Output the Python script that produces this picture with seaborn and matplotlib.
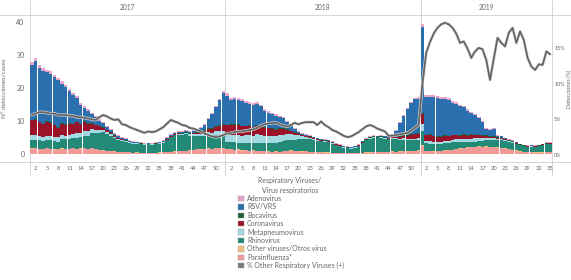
import matplotlib
matplotlib.use("Agg")
import matplotlib.pyplot as plt
import seaborn as sns
import pandas as pd
from matplotlib.patches import Patch
from matplotlib.lines import Line2D
import matplotlib.patheffects as pe

sns.set_theme(style="white")
plt.rcParams['font.family'] = ['Lato', 'DejaVu Sans']

# ---------------- data ----------------
years = ["2017", "2018", "2019"]
n_weeks = [52, 52, 35]
tick_weeks_2017 = [2, 5, 8, 11, 14, 17, 20, 23, 26, 29, 32, 35, 38, 41, 44, 47, 50]
tick_weeks_2018 = [2, 5, 8, 11, 14, 17, 20, 23, 26, 29, 32, 35, 38, 41, 44, 47, 50]
tick_weeks_2019 = [2, 5, 8, 11, 14, 17, 20, 23, 26, 29, 32, 35]

viruses = ["Adenovirus", "RSV/VRS", "Bocavirus", "Coronavirus", "Metapneumovirus",
           "Rhinovirus", "Other viruses/Otros virus", "Parainfluenza*"]
colors = ["#eaa3c9", "#2a6fae", "#1f5e36", "#9b1328", "#a3d9e3", "#238a78", "#f3c27e", "#f29a98"]

# 2017
adeno_2017 = [0.9,0.9,0.9,0.8,0.8,0.8,0.7,0.7,0.7,0.7,0.6,0.6,0.6,0.5,0.5,0.5,
              0.4,0.4,0.4,0.4,0.3,0.3,0.3,0.3,0.2,0.2,
              0.2,0.2,0.2,0.2,0.2,0.2,0.2,0.2,0.2,0.2,0.2,0.2,
              0.2,0.2,0.3,0.3,0.3,0.3,0.3,0.3,0.3,0.4,0.4,0.4,0.5,0.5]
rsv_2017 = [16.7,17.6,16.3,16.0,14.7,14.6,14.4,14.2,12.0,11.3,9.5,8.7,7.1,5.8,4.1,3.6,
            2.8,2.2,1.5,1.2,0.8,0.6,0.5,0.5,0.3,0.3,
            0.2,0.2,0.1,0.1,0.1,0.1,0.1,0.1,0.1,0.2,0.2,0.3,
            0.3,0.3,0.3,0.4,0.4,0.5,0.6,0.9,1.6,2.8,4.3,5.8,7.5,9.5]
boca_2017 = [0.2,0.3,0.2,0.2,0.2,0.3,0.2,0.2,0.2,0.2,0.3,0.2,0.2,0.2,0.2,0.2,
             0.2,0.2,0.2,0.2,0.2,0.2,0.2,0.2,0.2,0.2,
             0.1,0.1,0.1,0.1,0.1,0.1,0.1,0.1,0.1,0.1,0.2,0.2,
             0.2,0.2,0.2,0.2,0.2,0.2,0.2,0.2,0.2,0.2,0.2,0.2,0.2,0.2]
corona_2017 = [4.5,4.6,4.2,3.8,4.3,4.0,3.5,2.8,3.4,3.2,3.3,3.0,3.3,2.5,2.7,2.2,
               1.5,1.3,1.0,0.6,0.5,0.4,0.3,0.2,0.2,0.1,
               0.1,0.1,0.1,0.1,0.1,0.1,0.1,0.1,0.1,0.1,0.1,0.1,
               0.1,0.1,0.1,0.2,0.2,0.3,0.4,0.5,0.7,0.9,1.1,1.4,1.6,1.8]
metap_2017 = [1.4,1.3,1.2,1.3,1.2,1.1,1.2,1.3,1.2,1.1,1.3,1.2,1.4,1.3,1.5,1.4,
              1.2,1.0,0.9,0.8,0.7,0.6,0.4,0.3,0.2,0.2,
              0.1,0.1,0.1,0.1,0.1,0.1,0.1,0.1,0.1,0.1,0.2,0.2,
              0.2,0.3,0.3,0.3,0.4,0.5,0.6,0.7,0.8,0.9,1.0,1.2,1.3,1.5]
rhino_2017 = [2.6,2.5,2.6,2.4,2.5,2.7,2.6,2.3,2.8,2.9,3.1,3.0,3.3,3.5,3.6,4.0,
              4.6,4.9,5.2,5.5,5.0,4.5,4.0,3.6,3.4,3.2,
              3.0,2.8,2.7,2.6,2.5,2.5,2.5,2.6,2.7,3.0,3.6,4.4,
              4.9,5.0,4.8,5.0,4.5,4.2,4.0,4.1,4.0,4.1,4.0,3.9,3.8,3.8]
other_2017 = [0.1,0.1,0.1,0.1,0.1,0.1,0.1,0.1,0.1,0.1,0.1,0.1,0.1,0.1,0.1,0.1,
              0.1,0.1,0.1,0.1,0.1,0.1,0.1,0.1,0.1,0.1,
              0.0,0.0,0.1,0.0,0.0,0.1,0.0,0.0,0.1,0.0,0.1,0.1,
              0.1,0.1,0.1,0.1,0.1,0.1,0.1,0.1,0.1,0.1,0.1,0.1,0.1,0.1]
para_2017 = [1.6,1.8,1.5,1.4,1.7,1.5,1.3,1.4,1.6,1.5,1.4,1.7,1.5,1.6,1.8,1.5,
             1.7,1.4,1.2,1.0,0.9,0.8,0.7,0.6,0.6,0.5,
             0.5,0.4,0.4,0.4,0.3,0.3,0.3,0.4,0.4,0.5,0.5,0.6,
             0.7,0.8,0.8,0.9,1.0,1.2,1.4,1.3,1.5,1.6,1.4,1.7,1.8,1.6]
pct_2017 = [5.6,5.8,6.0,6.0,5.9,5.8,5.8,5.6,5.6,5.6,5.5,5.5,5.3,5.3,5.2,5.1,
            5.0,4.9,5.3,5.6,5.4,5.1,4.9,5.0,4.3,4.2,
            3.9,3.7,3.5,3.3,3.1,3.3,3.2,3.3,3.6,3.9,4.4,4.9,
            4.7,4.5,4.2,4.1,3.8,3.7,3.5,3.3,3.0,2.8,2.6,2.5,2.6,2.8]

# 2018
adeno_2018 = [0.8,0.7,0.7,0.7,0.6,0.6,0.6,0.6,0.6,0.5,0.5,0.5,
              0.5,0.4,0.4,0.4,0.4,0.3,0.3,0.3,0.3,0.3,0.2,0.2,0.2,0.2,
              0.2,0.2,0.2,0.2,0.2,0.2,0.2,0.2,0.2,0.2,0.2,0.2,0.2,0.2,
              0.2,0.2,0.2,0.2,0.2,0.3,0.3,0.3,0.4,0.4,0.4,0.5]
rsv_2018 = [8.8,7.3,7.6,7.2,7.6,6.8,6.4,6.6,6.4,6.2,4.9,4.5,
            4.2,4.0,3.3,3.0,2.1,1.4,1.1,0.4,0.2,0.2,0.1,0.1,0.1,0.1,
            0.1,0.1,0.1,0.1,0.1,0.1,0.1,0.1,0.1,0.1,0.1,0.1,0.1,0.1,
            0.2,0.2,0.3,0.4,0.6,1.7,4.0,5.8,7.8,9.4,10.4,10.4]
boca_2018 = [0.2,0.2,0.2,0.2,0.2,0.2,0.2,0.2,0.2,0.2,0.2,0.2,
             0.2,0.2,0.2,0.2,0.2,0.2,0.2,0.2,0.2,0.2,0.2,0.2,0.2,0.2,
             0.2,0.2,0.2,0.1,0.1,0.1,0.1,0.1,0.1,0.1,0.2,0.2,0.2,0.2,
             0.2,0.2,0.2,0.2,0.2,0.2,0.2,0.2,0.2,0.2,0.2,0.2]
corona_2018 = [3.0,3.1,2.9,3.2,2.8,2.6,2.7,2.5,2.6,2.4,2.3,2.2,
               2.1,2.0,1.8,1.7,1.3,0.9,0.6,0.4,0.3,0.2,0.2,0.1,0.1,0.1,
               0.1,0.1,0.1,0.1,0.1,0.1,0.1,0.1,0.1,0.1,0.1,0.1,0.1,0.1,
               0.1,0.1,0.1,0.1,0.2,0.3,0.5,0.7,0.9,1.1,1.3,1.4]
metap_2018 = [2.0,2.1,2.3,2.2,2.1,2.4,2.3,2.2,2.5,2.3,2.2,2.1,
              2.0,1.9,2.2,2.0,1.8,1.6,1.4,1.1,0.9,0.7,0.5,0.4,0.3,0.2,
              0.1,0.1,0.1,0.1,0.1,0.1,0.1,0.1,0.1,0.1,0.1,0.1,0.1,0.1,
              0.1,0.2,0.2,0.2,0.3,0.3,0.3,0.4,0.4,0.5,0.5,0.6]
rhino_2018 = [2.2,2.0,2.3,2.1,2.4,2.2,2.5,2.3,2.6,2.4,2.5,2.7,
              2.8,2.7,2.9,3.0,3.2,3.3,3.5,3.6,3.7,3.6,3.8,3.7,3.4,3.3,
              3.3,3.2,2.9,2.4,2.0,1.7,1.5,1.4,1.5,2.1,3.0,3.7,4.2,4.4,
              4.2,4.2,4.0,3.8,3.9,3.8,3.6,3.5,3.4,3.3,3.2,3.1]
other_2018 = [0.1,0.1,0.1,0.1,0.1,0.1,0.1,0.1,0.1,0.1,0.1,0.1,
              0.1,0.1,0.1,0.1,0.1,0.1,0.1,0.1,0.1,0.1,0.1,0.1,0.1,0.1,
              0.1,0.1,0.0,0.0,0.1,0.0,0.0,0.0,0.1,0.0,0.1,0.1,0.1,0.1,
              0.1,0.1,0.1,0.1,0.1,0.1,0.1,0.1,0.1,0.1,0.1,0.1]
para_2018 = [1.4,1.5,1.2,1.3,1.0,1.1,0.9,1.0,0.8,0.9,0.8,0.7,
             0.6,0.7,0.6,0.8,0.9,1.0,0.8,0.9,0.7,0.8,0.6,0.5,0.6,0.5,
             0.4,0.4,0.3,0.3,0.3,0.2,0.2,0.2,0.3,0.3,0.3,0.4,0.4,0.5,
             0.5,0.6,0.5,0.6,0.7,0.6,0.7,0.8,0.7,0.8,0.9,1.0]
pct_2018 = [3.0,3.1,3.2,3.3,3.3,3.4,3.5,3.6,3.8,4.1,4.3,4.4,
            4.5,4.5,4.3,4.1,4.0,4.2,4.5,4.3,4.5,4.6,4.6,4.6,4.2,4.7,
            4.2,3.9,3.5,3.3,3.0,2.7,2.5,2.6,2.9,3.2,3.6,4.0,4.2,4.0,
            3.7,3.5,3.3,2.7,2.7,2.8,2.9,3.0,3.1,3.4,3.8,4.2]

# 2019
adeno_2019 = [0.9,0.6,0.6,0.6,0.5,0.5,0.5,0.5,0.5,0.5,
              0.4,0.4,0.4,0.4,0.3,0.3,0.3,0.3,0.3,0.3,0.2,0.2,0.2,0.2,0.2,0.2,
              0.1,0.1,0.1,0.1,0.1,0.1,0.1,0.2,0.2]
rsv_2019 = [26.1,11.5,11.4,11.6,11.5,11.4,11.1,10.9,9.6,9.4,
            8.8,8.0,7.3,6.4,5.8,5.0,4.0,1.8,1.7,2.2,0.4,0.4,0.1,0.1,0.1,0.1,
            0.1,0.1,0.1,0.1,0.1,0.1,0.1,0.1,0.1]
boca_2019 = [0.4,0.2,0.2,0.2,0.2,0.2,0.2,0.2,0.2,0.2,
             0.2,0.2,0.2,0.2,0.2,0.2,0.2,0.2,0.2,0.2,0.2,0.2,0.2,0.2,0.2,0.2,
             0.2,0.1,0.1,0.1,0.1,0.1,0.1,0.1,0.1]
corona_2019 = [3.0,1.8,1.9,1.7,1.6,1.4,1.5,1.3,1.4,1.2,
               1.1,1.2,1.0,1.1,0.9,0.8,0.7,0.6,0.5,0.4,0.3,0.2,0.2,0.1,0.1,0.1,
               0.1,0.1,0.1,0.1,0.1,0.1,0.1,0.1,0.1]
metap_2019 = [2.0,0.6,0.7,0.6,0.7,0.8,0.7,0.8,0.7,0.8,
              0.8,0.9,0.8,0.9,1.0,0.9,0.8,0.7,0.6,0.5,0.4,0.3,0.3,0.2,0.2,0.1,
              0.1,0.1,0.1,0.1,0.1,0.1,0.1,0.1,0.1]
rhino_2019 = [4.5,2.4,2.2,2.3,2.1,2.0,2.2,2.1,2.3,2.2,
              2.0,1.9,1.8,1.7,1.6,1.7,1.8,1.9,2.1,2.2,2.3,2.4,2.3,2.2,2.1,2.0,
              1.8,1.6,1.5,1.6,1.6,1.8,2.2,2.4,2.5]
other_2019 = [0.1,0.1,0.1,0.1,0.1,0.1,0.1,0.1,0.1,0.1,
              0.1,0.1,0.1,0.1,0.1,0.1,0.1,0.1,0.1,0.1,0.1,0.1,0.1,0.1,0.1,0.1,
              0.1,0.1,0.1,0.1,0.1,0.1,0.1,0.1,0.1]
para_2019 = [2.5,0.8,0.9,0.7,0.8,0.9,1.0,1.1,1.2,1.4,
             1.6,1.8,1.9,2.0,2.1,2.2,2.1,2.2,2.0,2.1,1.9,1.8,1.6,1.4,1.2,1.0,
             0.7,0.6,0.5,0.5,0.4,0.4,0.4,0.5,0.5]
pct_2019 = [10.0,14.3,15.8,17.0,17.8,18.3,18.5,18.3,17.8,17.0,
            15.7,15.9,14.9,13.6,14.5,15.0,14.8,13.3,10.5,13.5,16.4,15.7,15.2,17.1,17.8,15.7,
            17.3,16.1,13.6,12.4,11.9,12.7,12.6,14.5,14.1]

series = {
    "2017": [adeno_2017, rsv_2017, boca_2017, corona_2017, metap_2017, rhino_2017, other_2017, para_2017],
    "2018": [adeno_2018, rsv_2018, boca_2018, corona_2018, metap_2018, rhino_2018, other_2018, para_2018],
    "2019": [adeno_2019, rsv_2019, boca_2019, corona_2019, metap_2019, rhino_2019, other_2019, para_2019],
}
pct = {"2017": pct_2017, "2018": pct_2018, "2019": pct_2019}
ticks = {"2017": tick_weeks_2017, "2018": tick_weeks_2018, "2019": tick_weeks_2019}

# ---------------- build tables ----------------
rows, line_rows = [], []
offsets = {}
off = 0
for yr, n in zip(years, n_weeks):
    offsets[yr] = off
    for name, vals in zip(viruses, series[yr]):
        for w, v in enumerate(vals, start=1):
            rows.append({"idx": off + w - 1, "virus": name, "value": v})
    for w, p in enumerate(pct[yr], start=1):
        line_rows.append({"idx": off + w - 1, "pct": p})
    off += n
df = pd.DataFrame(rows)
dl = pd.DataFrame(line_rows)
total_weeks = off

# ---------------- figure ----------------
W, H = 571, 280
fig = plt.figure(figsize=(W / 100, H / 100), dpi=100)
ax_l, ax_r, ax_t, ax_b = 30, 552, 15, 162
ax = fig.add_axes([ax_l / W, 1 - ax_b / H, (ax_r - ax_l) / W, (ax_b - ax_t) / H])

sns.histplot(data=df, x="idx", weights="value", hue="virus", hue_order=viruses,
             palette=colors, multiple="stack", discrete=True, shrink=0.95,
             linewidth=0, alpha=1, legend=False, ax=ax)

ax.set_xlim(-0.5, total_weeks - 0.5)
ax.set_ylim(-2.4, 42.1)
ax.set_yticks([0, 10, 20, 30, 40])
ax.set_yticklabels(["0", "10", "20", "30", "40"])
txtc = "#666666"
ax.tick_params(axis="y", length=0, pad=4, labelsize=5, labelcolor=txtc)

xt, xl = [], []
for yr in years:
    for w in ticks[yr]:
        xt.append(offsets[yr] + w - 1)
        xl.append(str(w))
ax.set_xticks(xt)
ax.set_xticklabels(xl)
ax.tick_params(axis="x", length=0, pad=3, labelsize=4.2, labelcolor=txtc)
ax.set_xlabel("")
ax.set_ylabel("N° detecciones/cases", fontsize=4.5, color=txtc, labelpad=6)

for s in ax.spines.values():
    s.set_visible(False)

ax2 = ax.twinx()
sns.lineplot(data=dl, x="idx", y="pct", ax=ax2, color="#636363", linewidth=1.25,
             path_effects=[pe.Stroke(linewidth=2.2, foreground="#d8d8d8"), pe.Normal()])
ax2.set_ylim(-0.98, 19.6)
ax2.set_yticks([0, 5, 10, 15])
ax2.set_yticklabels(["0%", "5%", "10%", "15%"])
ax2.tick_params(axis="y", length=0, pad=1.5, labelsize=3.9, labelcolor=txtc)
ax2.set_ylabel("Detecciones (%)", fontsize=4.0, color=txtc, rotation=90)
ax2.yaxis.set_label_coords((567 - ax_l) / (ax_r - ax_l), 0.5)
ax2.set_xlabel("")
for s in ax2.spines.values():
    s.set_visible(False)
ax2.grid(False)
ax.grid(False)

# dividers and header
gridc = "#cfcfcf"
for xpos in [-0.5, offsets["2018"] - 0.5, offsets["2019"] - 0.5, total_weeks - 0.5]:
    ax.axvline(xpos, ymin=-0.09, ymax=ax_b / (ax_b - ax_t), color=gridc, lw=0.6, clip_on=False, zorder=0)
for ypx in [ax_t, ax_b]:
    fig.add_artist(Line2D([0, 1], [1 - ypx / H, 1 - ypx / H], transform=fig.transFigure,
                          color=gridc, lw=0.6))
for yr, n in zip(years, n_weeks):
    ax.text(offsets[yr] + (n - 1) / 2, 1 + 7 / (ax_b - ax_t), yr, transform=ax.get_xaxis_transform(),
            ha="center", va="center", fontsize=4.8, color=txtc)

# legend
fig.text(290 / W, 1 - 180 / H, "Respiratory Viruses/", ha="center", va="center", fontsize=5, color=txtc)
fig.text(290 / W, 1 - 190 / H, "Virus respiratorios", ha="center", va="center", fontsize=5, color=txtc)
handles = [Patch(facecolor=c, edgecolor="#9a9a9a", linewidth=0.3) for c in colors]
handles.append(Patch(facecolor="#7a7a7a", edgecolor="#9a9a9a", linewidth=0.3))
labels = viruses + ["% Other Respiratory Viruses (+)"]
leg = fig.legend(handles, labels, loc="upper left", bbox_to_anchor=(238 / W, 1 - 195 / H),
                 frameon=False, fontsize=5, handlelength=0.8, handleheight=0.8,
                 handletextpad=0.5, labelspacing=0.2, borderpad=0, borderaxespad=0)
for t in leg.get_texts():
    t.set_color(txtc)

fig.savefig("out.png", dpi=100, facecolor="white")
